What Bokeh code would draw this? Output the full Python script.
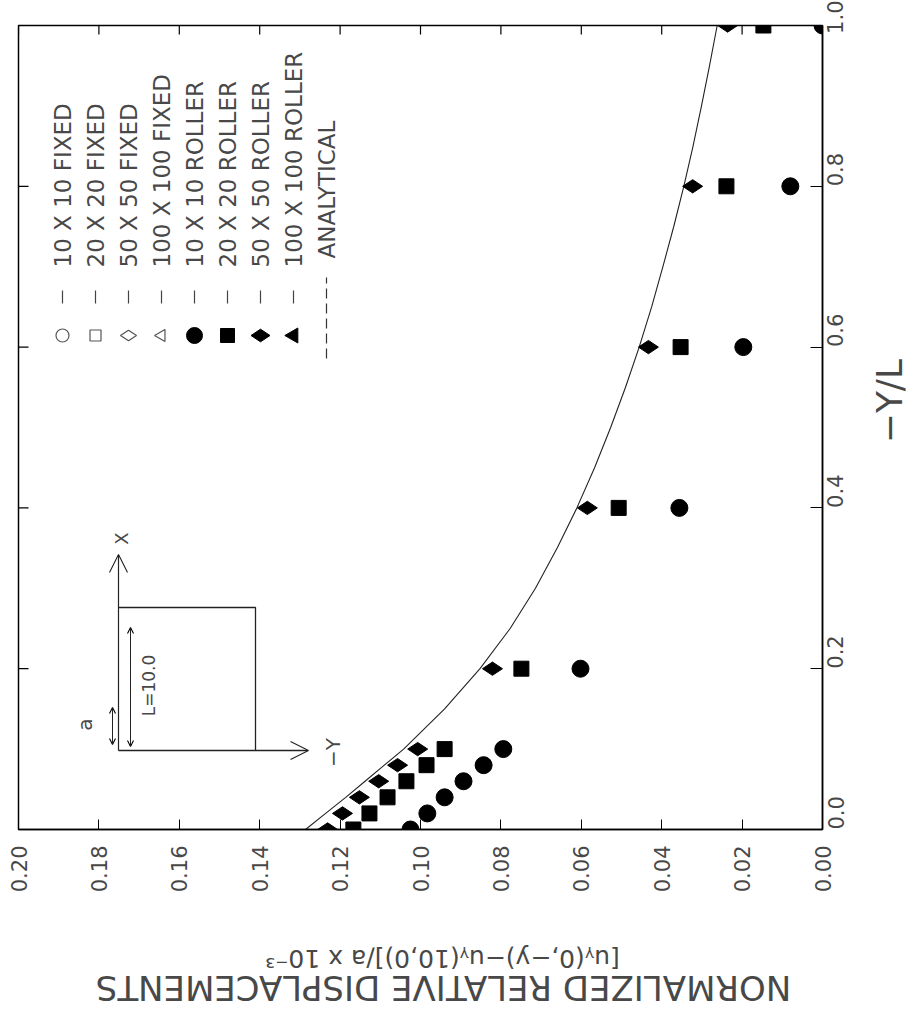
import math
from bokeh.plotting import figure
from bokeh.layouts import column, row
from bokeh.models import (Range1d, FixedTicker, PrintfTickFormatter, Label,
                          Arrow, OpenHead)
from bokeh.embed import file_html
from bokeh.resources import INLINE

# ---------------- data ----------------
depth = [0.0, 0.02, 0.04, 0.06, 0.08, 0.10, 0.20, 0.40, 0.60, 0.80, 1.00]
roller_10 = [0.1025, 0.0983, 0.0940, 0.0893, 0.0843, 0.0794, 0.0602, 0.0356, 0.0197, 0.0080, 0.0000]
roller_20 = [0.1167, 0.1127, 0.1082, 0.1035, 0.0985, 0.0940, 0.0749, 0.0507, 0.0353, 0.0239, 0.0147]
roller_50 = [0.1231, 0.1194, 0.1152, 0.1104, 0.1057, 0.1007, 0.0821, 0.0585, 0.0433, 0.0323, 0.0236]

analytic_depth = [0.0, 0.02, 0.04, 0.06, 0.08, 0.10, 0.15, 0.20, 0.25, 0.30, 0.35, 0.40,
                  0.45, 0.50, 0.55, 0.60, 0.65, 0.70, 0.75, 0.80, 0.85, 0.90, 0.95, 1.00]
analytic = [0.1286, 0.1236, 0.1186, 0.1138, 0.1090, 0.1042, 0.0940, 0.0852, 0.0777, 0.0714,
            0.0660, 0.0611, 0.0567, 0.0527, 0.0490, 0.0456, 0.0425, 0.0397, 0.0370, 0.0345,
            0.0322, 0.0301, 0.0281, 0.0262]

disp_ticks = [0.00, 0.02, 0.04, 0.06, 0.08, 0.10, 0.12, 0.14, 0.16, 0.18, 0.20]
depth_ticks = [0.0, 0.2, 0.4, 0.6, 0.8, 1.0]

legend_labels = ["10 X 10 FIXED", "20 X 20 FIXED", "50 X 50 FIXED", "100 X 100 FIXED",
                 "10 X 10 ROLLER", "20 X 20 ROLLER", "50 X 50 ROLLER", "100 X 100 ROLLER",
                 "ANALYTICAL"]
legend_markers = ["circle", "square", "diamond", "triangle",
                  "circle", "square", "diamond", "triangle", None]
legend_filled = [False, False, False, False, True, True, True, True, None]

y_title_1 = "[u\u1d67(0,\u2212y)\u2212u\u1d67(10,0)]/a x 10\u207b\u00b3"
y_title_2 = "NORMALIZED RELATIVE DISPLACEMENTS"
x_title = "\u2212Y/L"

# ---------------- layout (image pixels) ----------------
FL, FT, FW, FH = 18, 25, 804, 804
RB, BB = 40, 70                      # right / bottom borders of the main plot
MAIN_W, MAIN_H = FL + FW + RB, FT + FH + BB
SIDE_W = 55
BOT_H = 120
XMAX, XMIN = 0.20, 0.0


def dx(px):
    return XMAX - (px - FL) / FW * (XMAX - XMIN)


def dy(py):
    return (FT + FH - py) / FH


FONT = "DejaVu Sans"
TXT = "#484848"

p = figure(width=MAIN_W, height=MAIN_H, x_range=Range1d(XMAX, XMIN), y_range=Range1d(0, 1),
           y_axis_location="right", output_backend="svg", toolbar_location=None,
           min_border_left=FL, min_border_top=FT, min_border_right=RB, min_border_bottom=BB)
p.xgrid.visible = False
p.ygrid.visible = False
p.outline_line_color = "black"
p.outline_line_width = 1.5

xa = p.xaxis[0]
xa.ticker = FixedTicker(ticks=disp_ticks)
xa.formatter = PrintfTickFormatter(format="%.2f")
xa.major_label_orientation = math.pi / 2
xa.major_label_standoff = 16
xa.major_tick_in = 10
xa.major_tick_out = 0
xa.minor_tick_line_color = None
xa.axis_line_color = "black"
xa.axis_line_width = 1.5
xa.major_label_text_font = FONT
xa.major_label_text_font_size = "21px"
xa.major_label_text_color = TXT

ya = p.yaxis[0]
ya.ticker = FixedTicker(ticks=depth_ticks)
ya.formatter = PrintfTickFormatter(format="%.1f")
ya.major_label_orientation = math.pi / 2
ya.major_label_standoff = 13
ya.major_tick_in = 12
ya.major_tick_out = 0
ya.minor_tick_line_color = None
ya.axis_line_color = "black"
ya.axis_line_width = 1.5
ya.major_label_text_font = FONT
ya.major_label_text_font_size = "21px"
ya.major_label_text_color = TXT

# ticks on the top and left edges (inward)
top_len = 9 / FH
p.segment(x0=disp_ticks, y0=[1.0] * len(disp_ticks), x1=disp_ticks,
          y1=[1.0 - top_len] * len(disp_ticks), line_color="black", line_width=1.2)
left_len = 10 / FW * (XMAX - XMIN)
inner = depth_ticks[1:-1]
p.segment(x0=[XMAX] * len(inner), y0=inner, x1=[XMAX - left_len] * len(inner), y1=inner,
          line_color="black", line_width=1.2)

# ---------------- data marks ----------------
p.line(analytic, analytic_depth, line_color="#222222", line_width=1.1)
p.scatter(roller_10, depth, marker="circle", size=17, color="black")
p.scatter(roller_20, depth, marker="square", size=15, color="black")
p.scatter(roller_50, depth, marker="diamond", size=20, angle=math.pi / 2, color="black")

# ---------------- legend (rotated, drawn by hand) ----------------
leg_x0, leg_dx = 62, 33
sym_y, dash_y0, dash_y1, text_y = 335, 303, 290, 267
for i, lab in enumerate(legend_labels):
    cx = leg_x0 + leg_dx * i
    mk = legend_markers[i]
    if mk is None:
        p.line([dx(cx), dx(cx)], [dy(358), dy(277)], line_color="#333333",
               line_width=1.2, line_dash="10 5")
        ty = 258
    else:
        size = {"circle": 16, "square": 14, "diamond": 19, "triangle": 15}[mk]
        ang = math.pi / 2 if mk in ("diamond", "triangle") else 0
        if legend_filled[i]:
            p.scatter([dx(cx)], [dy(sym_y)], marker=mk, size=size, angle=ang, color="black")
        else:
            p.scatter([dx(cx)], [dy(sym_y)], marker=mk, size=size - 3, angle=ang,
                      fill_color=None, line_color="#555555", line_width=1.2)
        p.line([dx(cx), dx(cx)], [dy(dash_y0), dy(dash_y1)], line_color="#444444", line_width=1.2)
        ty = text_y
    p.add_layout(Label(x=dx(cx), y=dy(ty), text=lab, angle=math.pi / 2,
                       text_align="left", text_baseline="middle", text_font=FONT,
                       text_font_size="23px", text_color=TXT))

# ---------------- inset sketch ----------------
p.line([dx(118), dx(255), dx(255)], [dy(607), dy(607), dy(750)], line_color="#222222", line_width=1.3)
p.add_layout(Arrow(end=OpenHead(size=18, line_width=1.1, line_color="#222222"),
                   x_start=dx(118), y_start=dy(750), x_end=dx(118), y_end=dy(554),
                   line_width=1.2, line_color="#222222"))
p.add_layout(Arrow(end=OpenHead(size=18, line_width=1.1, line_color="#222222"),
                   x_start=dx(118), y_start=dy(750), x_end=dx(308), y_end=dy(750),
                   line_width=1.3, line_color="#222222"))
p.add_layout(Arrow(start=OpenHead(size=6, line_width=1.1), end=OpenHead(size=6, line_width=1.1),
                   x_start=dx(112), y_start=dy(744), x_end=dx(112), y_end=dy(707),
                   line_width=1.0, line_color="#222222"))
p.add_layout(Arrow(start=OpenHead(size=6, line_width=1.1), end=OpenHead(size=6, line_width=1.1),
                   x_start=dx(130), y_start=dy(746), x_end=dx(130), y_end=dy(627),
                   line_width=1.0, line_color="#222222"))
for txt, px, py, fs in [("X", 121, 538, "18px"), ("\u2212Y", 332, 752, "20px"),
                        ("a", 84, 724, "20px"), ("L=10.0", 148, 685, "17px")]:
    p.add_layout(Label(x=dx(px), y=dy(py), text=txt, angle=math.pi / 2,
                       text_align="center", text_baseline="middle", text_font=FONT,
                       text_font_size=fs, text_color=TXT))


# ---------------- title panels (pixel coordinates) ----------------
def panel(w, h):
    f = figure(width=w, height=h, x_range=Range1d(0, w), y_range=Range1d(0, h),
               x_axis_location=None, y_axis_location=None, output_backend="svg",
               toolbar_location=None, min_border=0)
    f.xgrid.visible = False
    f.ygrid.visible = False
    f.outline_line_color = None
    return f


side = panel(SIDE_W, MAIN_H)
side.add_layout(Label(x=889 - MAIN_W, y=MAIN_H - 420, text=x_title, angle=math.pi / 2,
                      text_align="center", text_baseline="middle", text_font=FONT,
                      text_font_size="36px", text_color=TXT))

bottom = panel(MAIN_W + SIDE_W, BOT_H)
bottom.add_layout(Label(x=442, y=MAIN_H + BOT_H - 958, text=y_title_1, angle=math.pi,
                        text_align="center", text_baseline="middle", text_font=FONT,
                        text_font_size="25px", text_color=TXT))
bottom.add_layout(Label(x=443, y=MAIN_H + BOT_H - 987, text=y_title_2, angle=math.pi,
                        text_align="center", text_baseline="middle", text_font=FONT,
                        text_font_size="34px", text_color=TXT))

layout = column(row(p, side), bottom)
open("out.html", "w").write(file_html(layout, INLINE))
